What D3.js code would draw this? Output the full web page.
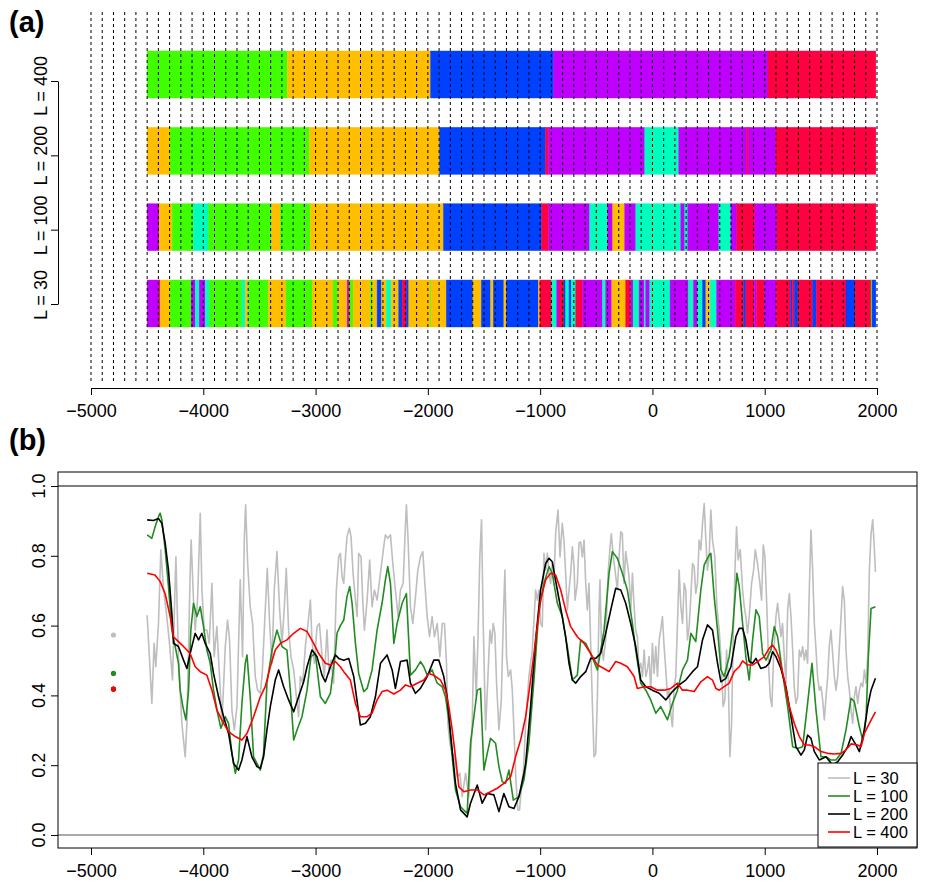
<!DOCTYPE html>
<html><head><meta charset="utf-8">
<script src="https://cdn.jsdelivr.net/npm/d3@7"></script>
<style>body{margin:0;background:#fff} text{font-family:"Liberation Sans",Arial,Helvetica,sans-serif}</style>
</head><body><svg id="c" width="927" height="883"></svg>
<script>
// ---------- DATA ----------
const rowLabels = ["L = 30","L = 100","L = 200","L = 400"];
const clusterColors = {R:"#FF0040",O:"#FFBF00",G:"#40FF00",C:"#00FFBF",B:"#0040FF",P:"#BF00FF"};

const breaks400 = [-4500,-3252,-1976,-880,1029,1990];
const cls400 = "GOBPR";
const breaks200 = [-4500,-4295,-3055,-1896,-951,-924,-68,235,841,859,1100,1990];
const cls200 = "OGOBRPCPRPR";
const breaks100 = [-4500,-4393,-4277,-4090,-3956,-3394,-3314,-3046,-1861,-987,-924,-559,-398,-354,-247,-148,253,288,315,592,699,752,913,1109,1990];
const cls100 = "POGCGOGOBRPCPOPCPCPCPRPR";
const breaks30 = [-4500,-4393,-4384,-4295,-4108,-4072,-4036,-3983,-3947,-3656,-3626,-3597,-3421,-3263,-3029,-2844,-2803,-2719,-2705,-2696,-2666,-2511,-2491,-2452,-2413,-2371,-2327,-2259,-2229,-2193,-2170,-1976,-1968,-1836,-1599,-1524,-1441,-1417,-1323,-1301,-1016,-1002,-897,-853,-832,-788,-773,-743,-722,-683,-624,-445,-416,-362,-238,-193,-172,-119,-74,-59,-24,157,321,366,402,446,476,514,571,737,812,832,907,928,996,1103,1231,1245,1263,1296,1427,1459,1724,1804,1947,1956,1990];
const cls30 = "PROGPCPCGCOGOGOGOPRGOGOBOCOBRBOGOBOBOBOBORCPRBCBCRPCPORPCPCPCPCPCBOCPRBRPRPRBRBRBRBRGB";

const xTicks = [-5000,-4000,-3000,-2000,-1000,0,1000,2000];
const yTicksB = [0,0.2,0.4,0.6,0.8,1.0];
const yTickLabelsB = ["0.0","0.2","0.4","0.6","0.8","1.0"];

const seriesL400 = [[-4500,0.750],[-4430,0.745],[-4384,0.726],[-4340,0.692],[-4295,0.626],[-4265,0.568],[-4221,0.554],[-4176,0.540],[-4117,0.520],[-4072,0.482],[-4027,0.468],[-3968,0.458],[-3923,0.415],[-3879,0.358],[-3819,0.320],[-3775,0.296],[-3715,0.282],[-3656,0.272],[-3611,0.291],[-3552,0.339],[-3492,0.396],[-3448,0.425],[-3403,0.482],[-3359,0.530],[-3314,0.549],[-3255,0.559],[-3195,0.578],[-3136,0.592],[-3076,0.583],[-3017,0.549],[-2972,0.520],[-2913,0.492],[-2868,0.487],[-2824,0.497],[-2779,0.482],[-2749,0.468],[-2690,0.444],[-2645,0.377],[-2601,0.339],[-2541,0.339],[-2497,0.349],[-2452,0.387],[-2408,0.411],[-2363,0.415],[-2303,0.404],[-2244,0.415],[-2199,0.430],[-2155,0.425],[-2095,0.435],[-2036,0.444],[-1991,0.463],[-1947,0.458],[-1887,0.444],[-1843,0.415],[-1813,0.368],[-1783,0.301],[-1754,0.224],[-1724,0.138],[-1679,0.124],[-1620,0.129],[-1560,0.129],[-1501,0.115],[-1442,0.124],[-1382,0.134],[-1323,0.148],[-1263,0.167],[-1219,0.224],[-1174,0.272],[-1129,0.339],[-1085,0.444],[-1040,0.559],[-996,0.673],[-951,0.731],[-907,0.750],[-862,0.745],[-817,0.702],[-773,0.645],[-728,0.597],[-669,0.568],[-609,0.549],[-550,0.520],[-490,0.487],[-431,0.477],[-386,0.468],[-327,0.497],[-282,0.492],[-223,0.482],[-163,0.454],[-134,0.420],[-74,0.425],[-15,0.425],[45,0.415],[104,0.415],[163,0.420],[223,0.435],[268,0.415],[312,0.415],[372,0.411],[431,0.439],[490,0.454],[535,0.444],[565,0.420],[595,0.415],[639,0.425],[684,0.435],[728,0.468],[773,0.482],[803,0.499],[847,0.487],[892,0.487],[936,0.497],[996,0.511],[1040,0.535],[1070,0.544],[1100,0.530],[1130,0.506],[1174,0.444],[1219,0.368],[1263,0.320],[1308,0.282],[1353,0.258],[1397,0.258],[1442,0.253],[1501,0.239],[1561,0.234],[1620,0.232],[1680,0.234],[1724,0.244],[1769,0.261],[1828,0.258],[1858,0.253],[1888,0.291],[1932,0.320],[1986,0.353]];

const seriesL200 = [[-4500,0.903],[-4444,0.901],[-4399,0.907],[-4369,0.893],[-4339,0.836],[-4310,0.759],[-4280,0.635],[-4265,0.549],[-4221,0.540],[-4176,0.501],[-4146,0.477],[-4117,0.520],[-4087,0.559],[-4072,0.578],[-4042,0.559],[-4013,0.578],[-3983,0.549],[-3938,0.520],[-3909,0.463],[-3864,0.396],[-3819,0.339],[-3775,0.291],[-3730,0.205],[-3686,0.186],[-3656,0.215],[-3611,0.282],[-3567,0.224],[-3522,0.196],[-3492,0.191],[-3463,0.224],[-3433,0.301],[-3403,0.368],[-3359,0.444],[-3329,0.473],[-3284,0.425],[-3240,0.387],[-3195,0.353],[-3151,0.396],[-3106,0.439],[-3076,0.482],[-3032,0.530],[-2987,0.511],[-2943,0.458],[-2913,0.439],[-2868,0.482],[-2824,0.516],[-2794,0.506],[-2749,0.501],[-2705,0.506],[-2660,0.454],[-2601,0.315],[-2556,0.320],[-2512,0.339],[-2467,0.396],[-2422,0.492],[-2363,0.516],[-2318,0.473],[-2289,0.420],[-2244,0.497],[-2185,0.501],[-2155,0.435],[-2110,0.406],[-2066,0.420],[-2006,0.454],[-1947,0.501],[-1902,0.501],[-1858,0.454],[-1828,0.396],[-1798,0.291],[-1754,0.148],[-1709,0.072],[-1650,0.052],[-1620,0.091],[-1560,0.143],[-1516,0.091],[-1471,0.119],[-1412,0.115],[-1367,0.067],[-1323,0.119],[-1278,0.081],[-1233,0.076],[-1189,0.110],[-1144,0.177],[-1129,0.205],[-1085,0.368],[-1040,0.559],[-996,0.702],[-951,0.778],[-921,0.793],[-892,0.783],[-847,0.702],[-803,0.626],[-773,0.568],[-743,0.492],[-713,0.444],[-684,0.435],[-639,0.454],[-594,0.468],[-550,0.506],[-505,0.506],[-461,0.520],[-416,0.578],[-371,0.645],[-327,0.707],[-282,0.702],[-238,0.664],[-193,0.606],[-149,0.540],[-104,0.444],[-59,0.425],[0,0.415],[60,0.406],[119,0.387],[178,0.411],[238,0.430],[297,0.444],[357,0.468],[401,0.482],[446,0.559],[490,0.602],[535,0.587],[580,0.492],[610,0.439],[654,0.449],[699,0.482],[743,0.568],[773,0.592],[803,0.592],[832,0.559],[862,0.497],[892,0.492],[922,0.506],[966,0.477],[1011,0.482],[1040,0.492],[1070,0.525],[1100,0.511],[1144,0.477],[1189,0.425],[1234,0.339],[1278,0.253],[1323,0.229],[1353,0.244],[1382,0.286],[1412,0.277],[1442,0.239],[1486,0.215],[1546,0.224],[1605,0.200],[1650,0.210],[1694,0.229],[1739,0.253],[1769,0.282],[1813,0.258],[1843,0.239],[1888,0.301],[1917,0.368],[1947,0.415],[1986,0.449]];

const seriesL100 = [[-4500,0.860],[-4458,0.850],[-4429,0.883],[-4399,0.912],[-4384,0.922],[-4369,0.903],[-4339,0.817],[-4310,0.712],[-4280,0.587],[-4250,0.540],[-4221,0.492],[-4206,0.415],[-4182,0.368],[-4155,0.330],[-4131,0.415],[-4111,0.587],[-4087,0.664],[-4057,0.626],[-4027,0.654],[-3998,0.597],[-3968,0.530],[-3938,0.492],[-3909,0.415],[-3873,0.349],[-3843,0.306],[-3805,0.339],[-3775,0.320],[-3745,0.234],[-3715,0.177],[-3686,0.215],[-3656,0.377],[-3626,0.492],[-3611,0.516],[-3582,0.396],[-3552,0.224],[-3522,0.205],[-3492,0.186],[-3463,0.234],[-3433,0.435],[-3388,0.530],[-3344,0.587],[-3299,0.540],[-3255,0.530],[-3225,0.415],[-3195,0.272],[-3165,0.301],[-3121,0.339],[-3076,0.415],[-3041,0.511],[-3002,0.520],[-2957,0.396],[-2913,0.377],[-2868,0.406],[-2824,0.520],[-2809,0.578],[-2779,0.600],[-2749,0.616],[-2720,0.683],[-2696,0.712],[-2675,0.664],[-2645,0.549],[-2616,0.463],[-2571,0.411],[-2541,0.420],[-2497,0.473],[-2452,0.587],[-2408,0.664],[-2378,0.731],[-2357,0.769],[-2333,0.721],[-2303,0.549],[-2274,0.606],[-2229,0.664],[-2191,0.692],[-2155,0.458],[-2110,0.473],[-2066,0.497],[-2036,0.482],[-2006,0.458],[-1962,0.473],[-1917,0.435],[-1873,0.425],[-1843,0.396],[-1813,0.330],[-1783,0.224],[-1754,0.129],[-1709,0.081],[-1650,0.062],[-1620,0.263],[-1590,0.339],[-1560,0.415],[-1531,0.420],[-1501,0.186],[-1471,0.234],[-1442,0.277],[-1397,0.263],[-1367,0.196],[-1338,0.153],[-1308,0.148],[-1278,0.186],[-1239,0.100],[-1189,0.110],[-1144,0.158],[-1100,0.263],[-1055,0.444],[-1011,0.645],[-966,0.721],[-921,0.769],[-892,0.750],[-847,0.664],[-803,0.626],[-758,0.540],[-713,0.444],[-669,0.458],[-639,0.559],[-594,0.549],[-550,0.520],[-490,0.473],[-431,0.587],[-386,0.750],[-357,0.812],[-312,0.793],[-268,0.750],[-223,0.702],[-178,0.606],[-149,0.530],[-104,0.435],[-59,0.415],[-15,0.387],[30,0.349],[74,0.368],[134,0.330],[178,0.377],[223,0.415],[268,0.473],[312,0.501],[342,0.578],[386,0.554],[431,0.702],[461,0.774],[505,0.802],[520,0.807],[550,0.683],[580,0.587],[610,0.473],[639,0.454],[684,0.511],[714,0.587],[752,0.750],[773,0.712],[803,0.606],[832,0.511],[862,0.444],[892,0.559],[922,0.645],[951,0.626],[981,0.520],[1011,0.501],[1055,0.530],[1085,0.597],[1115,0.568],[1159,0.463],[1204,0.368],[1249,0.253],[1293,0.248],[1338,0.253],[1382,0.377],[1421,0.492],[1457,0.358],[1501,0.224],[1546,0.224],[1590,0.215],[1635,0.215],[1680,0.234],[1724,0.301],[1769,0.392],[1798,0.382],[1843,0.310],[1873,0.272],[1903,0.339],[1923,0.511],[1947,0.649],[1986,0.654]];

const seriesL30 = [[-4500,0.630],[-4458,0.377],[-4438,0.549],[-4423,0.482],[-4399,0.606],[-4378,0.817],[-4354,0.702],[-4325,0.626],[-4301,0.549],[-4274,0.444],[-4244,0.797],[-4221,0.511],[-4191,0.320],[-4161,0.224],[-4146,0.320],[-4117,0.750],[-4108,0.845],[-4087,0.673],[-4072,0.587],[-4051,0.673],[-4027,0.922],[-4012,0.702],[-3992,0.587],[-3968,0.587],[-3947,0.549],[-3923,0.721],[-3903,0.511],[-3879,0.597],[-3849,0.415],[-3834,0.320],[-3804,0.540],[-3784,0.616],[-3766,0.559],[-3745,0.358],[-3724,0.301],[-3700,0.368],[-3671,0.731],[-3650,0.511],[-3635,0.845],[-3623,0.946],[-3605,0.778],[-3582,0.654],[-3561,0.606],[-3537,0.454],[-3516,0.415],[-3492,0.406],[-3475,0.463],[-3454,0.606],[-3430,0.764],[-3409,0.606],[-3388,0.492],[-3368,0.702],[-3344,0.812],[-3320,0.645],[-3299,0.549],[-3278,0.654],[-3261,0.764],[-3240,0.587],[-3219,0.511],[-3195,0.473],[-3171,0.396],[-3151,0.339],[-3136,0.454],[-3115,0.435],[-3091,0.540],[-3067,0.606],[-3046,0.673],[-3032,0.559],[-3011,0.492],[-2987,0.597],[-2966,0.606],[-2942,0.511],[-2922,0.454],[-2898,0.587],[-2880,0.463],[-2862,0.501],[-2839,0.435],[-2815,0.702],[-2794,0.797],[-2779,0.807],[-2764,0.740],[-2749,0.721],[-2734,0.797],[-2720,0.855],[-2699,0.879],[-2684,0.855],[-2666,0.750],[-2645,0.673],[-2630,0.626],[-2616,0.807],[-2595,0.797],[-2580,0.673],[-2565,0.587],[-2541,0.673],[-2518,0.788],[-2497,0.654],[-2476,0.702],[-2452,0.673],[-2422,0.750],[-2393,0.826],[-2378,0.860],[-2357,0.850],[-2333,0.860],[-2312,0.778],[-2289,0.702],[-2265,0.626],[-2244,0.702],[-2220,0.721],[-2199,0.893],[-2191,0.946],[-2176,0.845],[-2155,0.654],[-2134,0.606],[-2110,0.683],[-2089,0.759],[-2066,0.797],[-2045,0.812],[-2027,0.721],[-2006,0.626],[-1985,0.568],[-1962,0.626],[-1941,0.568],[-1917,0.606],[-1893,0.511],[-1872,0.606],[-1852,0.606],[-1834,0.492],[-1822,0.320],[-1804,0.263],[-1783,0.234],[-1763,0.224],[-1739,0.167],[-1715,0.177],[-1694,0.110],[-1664,0.177],[-1635,0.110],[-1605,0.320],[-1590,0.568],[-1569,0.396],[-1554,0.559],[-1537,0.797],[-1522,0.903],[-1507,0.606],[-1486,0.301],[-1465,0.454],[-1447,0.587],[-1433,0.549],[-1418,0.606],[-1403,0.578],[-1388,0.435],[-1367,0.301],[-1346,0.387],[-1329,0.606],[-1314,0.759],[-1299,0.511],[-1284,0.454],[-1263,0.473],[-1248,0.415],[-1233,0.301],[-1216,0.158],[-1198,0.072],[-1183,0.072],[-1165,0.148],[-1150,0.177],[-1129,0.320],[-1100,0.454],[-1070,0.530],[-1040,0.702],[-1025,0.673],[-1011,0.702],[-996,0.606],[-981,0.597],[-966,0.807],[-951,0.759],[-936,0.807],[-921,0.750],[-907,0.721],[-892,0.778],[-877,0.731],[-862,0.864],[-841,0.931],[-823,0.797],[-803,0.893],[-788,0.845],[-773,0.750],[-758,0.645],[-743,0.702],[-728,0.750],[-713,0.826],[-698,0.769],[-689,0.673],[-669,0.721],[-654,0.836],[-639,0.840],[-624,0.797],[-609,0.845],[-594,0.721],[-580,0.645],[-565,0.721],[-550,0.549],[-535,0.377],[-520,0.224],[-505,0.234],[-490,0.396],[-475,0.654],[-467,0.731],[-455,0.559],[-437,0.501],[-416,0.559],[-395,0.750],[-377,0.826],[-366,0.864],[-348,0.797],[-333,0.759],[-312,0.702],[-297,0.797],[-282,0.869],[-268,0.864],[-253,0.721],[-238,0.812],[-223,0.778],[-208,0.740],[-193,0.645],[-178,0.750],[-163,0.654],[-149,0.587],[-134,0.568],[-119,0.473],[-104,0.492],[-89,0.454],[-74,0.530],[-59,0.454],[-45,0.473],[-30,0.511],[-15,0.415],[0,0.549],[15,0.463],[30,0.540],[45,0.454],[60,0.559],[74,0.587],[89,0.626],[104,0.540],[119,0.473],[134,0.396],[149,0.415],[163,0.349],[178,0.310],[193,0.425],[208,0.454],[223,0.606],[238,0.759],[253,0.654],[268,0.606],[283,0.721],[297,0.702],[312,0.559],[327,0.597],[342,0.683],[357,0.778],[372,0.769],[386,0.692],[401,0.721],[416,0.845],[431,0.817],[446,0.893],[461,0.950],[476,0.845],[490,0.759],[505,0.797],[520,0.931],[535,0.845],[556,0.797],[574,0.654],[595,0.587],[610,0.511],[630,0.368],[645,0.387],[660,0.530],[675,0.454],[690,0.224],[705,0.320],[719,0.559],[734,0.750],[749,0.883],[764,0.788],[782,0.817],[803,0.702],[818,0.654],[832,0.626],[847,0.578],[862,0.626],[883,0.721],[901,0.759],[916,0.817],[936,0.778],[957,0.721],[972,0.673],[987,0.831],[1002,0.797],[1020,0.645],[1035,0.482],[1049,0.396],[1064,0.368],[1079,0.511],[1100,0.626],[1115,0.664],[1130,0.616],[1144,0.568],[1159,0.606],[1174,0.511],[1189,0.435],[1204,0.645],[1219,0.692],[1234,0.626],[1249,0.530],[1263,0.425],[1278,0.377],[1293,0.396],[1308,0.530],[1323,0.511],[1338,0.540],[1353,0.501],[1367,0.530],[1382,0.492],[1397,0.702],[1412,0.874],[1427,0.759],[1442,0.606],[1457,0.530],[1471,0.454],[1486,0.415],[1501,0.425],[1516,0.387],[1531,0.330],[1546,0.396],[1561,0.454],[1575,0.540],[1590,0.587],[1605,0.520],[1620,0.454],[1635,0.415],[1650,0.454],[1665,0.540],[1680,0.626],[1694,0.712],[1709,0.673],[1724,0.530],[1739,0.454],[1754,0.415],[1769,0.358],[1784,0.320],[1798,0.396],[1813,0.425],[1828,0.377],[1843,0.415],[1858,0.435],[1873,0.425],[1888,0.473],[1903,0.435],[1917,0.511],[1932,0.759],[1947,0.864],[1962,0.903],[1977,0.817],[1986,0.754]];

// overall means shown as dots at left
const meanYear = -4800;
const meanL30 = 0.573, meanL100 = 0.463, meanL200 = 0.418, meanL400 = 0.418;

const seriesNames = ["L = 30","L = 100","L = 200","L = 400"];
const seriesColors = ["#BEBEBE","#228B22","#000000","#FF0000"];

// ---------- DRAW ----------
const svg = d3.select("#c");
const FONT = 18;
const x = d3.scaleLinear().domain([-5000,2000]).range([91,877]);
const fmtYear = d=>d<0?"\u2212"+Math.abs(d):String(d);

// ===== Panel (a) =====
const gA = svg.append("g");
const rows = [
  {breaks:breaks30, cls:cls30},
  {breaks:breaks100, cls:cls100},
  {breaks:breaks200, cls:cls200},
  {breaks:breaks400, cls:cls400}
];
const yBar = d3.scaleLinear().domain([0,3]).range([303.5,74.5]);
const barH = 47;
rows.forEach((r,i)=>{
  const segs = d3.range(r.cls.length).map(k=>({x0:r.breaks[k],x1:r.breaks[k+1],c:r.cls[k]}));
  gA.append("g").selectAll("rect").data(segs).join("rect")
    .attr("x",d=>x(d.x0)).attr("width",d=>Math.max(0.6,x(d.x1)-x(d.x0)))
    .attr("y",yBar(i)-barH/2).attr("height",barH)
    .attr("fill",d=>clusterColors[d.c]).attr("stroke",d=>clusterColors[d.c]).attr("stroke-width",0.4);
});
// dashed grid
gA.append("g").selectAll("line").data(d3.range(-5000,2001,100)).join("line")
  .attr("x1",d=>x(d)).attr("x2",d=>x(d)).attr("y1",12).attr("y2",383)
  .attr("stroke","#000").attr("stroke-width",1).attr("stroke-dasharray","3,3");

// x axis (a)
const axA = gA.append("g").attr("transform","translate(0,388)")
  .call(d3.axisBottom(x).tickValues(xTicks).tickSize(7).tickSizeOuter(0).tickPadding(9).tickFormat(fmtYear));
axA.selectAll("text").attr("font-size",FONT).attr("fill","#000");
axA.selectAll("path,line").attr("stroke","#000");

// y axis (a)
const yTickA = d3.scaleLinear().domain([0,3]).range([304,81]);
const yLabA = d3.scaleLinear().domain([0,3]).range([295,86]);
const ayA = gA.append("g").attr("transform","translate(58,0)")
  .call(d3.axisLeft(yTickA).tickValues([0,1,2,3]).tickSize(7).tickSizeOuter(0).tickFormat(""));
ayA.selectAll("path,line").attr("stroke","#000");
gA.append("g").selectAll("text").data(rowLabels).join("text")
  .attr("transform",(d,i)=>`translate(41,${yLabA(i)}) rotate(-90)`)
  .attr("text-anchor","middle").attr("dy","0.35em").attr("font-size",FONT).text(d=>d);

svg.append("text").attr("x",9).attr("y",32).attr("font-size",29).attr("font-weight","bold").text("(a)");
svg.append("text").attr("x",9).attr("y",450).attr("font-size",29).attr("font-weight","bold").text("(b)");

// ===== Panel (b) =====
const gB = svg.append("g");
const yB = d3.scaleLinear().domain([0,1]).range([835,486]);
const boxL = 58, boxR = 917, boxT = 472, boxB = 848;

gB.append("line").attr("x1",boxL).attr("x2",boxR).attr("y1",yB(1)).attr("y2",yB(1)).attr("stroke","#000").attr("stroke-width",1);
gB.append("line").attr("x1",boxL).attr("x2",boxR).attr("y1",yB(0)).attr("y2",yB(0)).attr("stroke","#555").attr("stroke-width",1);

const line = d3.line().x(d=>x(d[0])).y(d=>yB(d[1]));
const allSeries = [seriesL30, seriesL100, seriesL200, seriesL400];
allSeries.forEach((s,i)=>{
  gB.append("path").datum(s).attr("d",line).attr("fill","none")
    .attr("stroke",seriesColors[i]).attr("stroke-width",1.6).attr("stroke-linejoin","round");
});

const means = [meanL30, meanL100, meanL200, meanL400];
gB.append("g").selectAll("circle").data(means).join("circle")
  .attr("cx",x(meanYear)).attr("cy",d=>yB(d)).attr("r",2.6)
  .attr("fill",(d,i)=>seriesColors[i]);

gB.append("rect").attr("x",boxL).attr("y",boxT).attr("width",boxR-boxL).attr("height",boxB-boxT)
  .attr("fill","none").attr("stroke","#000").attr("stroke-width",1);

const axB = gB.append("g").attr("transform",`translate(0,${boxB})`)
  .call(d3.axisBottom(x).tickValues(xTicks).tickSize(7).tickSizeOuter(0).tickPadding(9).tickFormat(fmtYear));
axB.select(".domain").remove();
axB.selectAll("text").attr("font-size",FONT).attr("fill","#000");
axB.selectAll("line").attr("stroke","#000");

const ayB = gB.append("g").attr("transform",`translate(${boxL},0)`)
  .call(d3.axisLeft(yB).tickValues(yTicksB).tickSize(7).tickSizeOuter(0).tickFormat(""));
ayB.select(".domain").remove();
ayB.selectAll("line").attr("stroke","#000");
gB.append("g").selectAll("text").data(yTicksB).join("text")
  .attr("transform",d=>`translate(39,${yB(d)}) rotate(-90)`)
  .attr("text-anchor","middle").attr("dy","0.35em").attr("font-size",FONT)
  .text((d,i)=>yTickLabelsB[i]);

// legend
const lg = gB.append("g");
lg.append("rect").attr("x",818).attr("y",763).attr("width",99).attr("height",84)
  .attr("fill","#fff").attr("stroke","#000").attr("stroke-width",1);
seriesNames.forEach((n,i)=>{
  const yy = 778 + i*18;
  lg.append("line").attr("x1",828).attr("x2",850).attr("y1",yy).attr("y2",yy)
    .attr("stroke",seriesColors[i]).attr("stroke-width",1.6);
  lg.append("text").attr("x",853).attr("y",yy).attr("dy","0.35em").attr("font-size",16.5).text(n);
});
</script></body></html>
